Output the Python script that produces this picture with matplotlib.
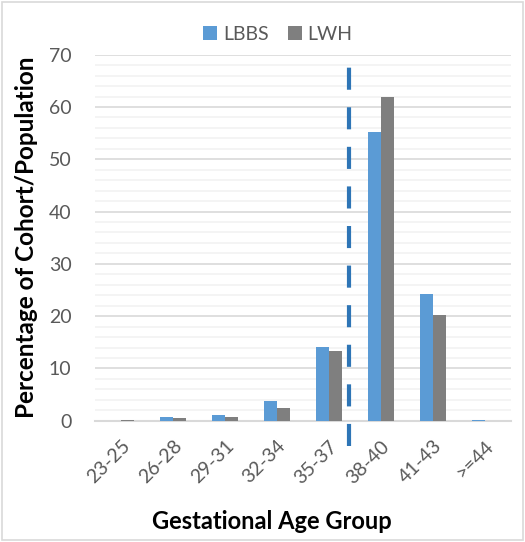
import matplotlib.pyplot as plt
import numpy as np

plt.rcParams['font.family'] = ['Lato', 'DejaVu Sans']

# Data
groups = ['23-25', '26-28', '29-31', '32-34', '35-37', '38-40', '41-43', '>=44']
lbbs = [0.0, 0.7, 1.1, 3.8, 14.1, 55.3, 24.2, 0.2]
lwh = [0.2, 0.5, 0.8, 2.4, 13.4, 62.0, 20.2, 0.0]

c_lbbs = '#5B9BD5'
c_lwh = '#7F7F7F'
grey_txt = '#595959'

fig = plt.figure(figsize=(5.25, 5.42), dpi=100)
ax = fig.add_axes([95 / 525, 121.3 / 542, 415.7 / 525, 366 / 542])

x = np.arange(len(groups))
w = 0.25
ax.bar(x - w / 2, lbbs, w, color=c_lbbs, label='LBBS', zorder=3)
ax.bar(x + w / 2, lwh, w, color=c_lwh, label='LWH', zorder=3)

# dashed reference line between 35-37 and 38-40
ax.axvline(4.38, ymin=-0.07, ymax=0.967, color='#2E75B6', lw=3,
           linestyle=(0, (5.3, 4.2)), clip_on=False, zorder=4)

ax.set_xlim(-0.5, len(groups) - 0.5)
ax.set_ylim(0, 70)
ax.set_yticks(np.arange(0, 71, 10))
ax.set_yticks(np.arange(0, 70, 2), minor=True)
ax.grid(axis='y', which='major', color='#D9D9D9', lw=1.2, zorder=0)
ax.grid(axis='y', which='minor', color='#F2F2F2', lw=1.2, zorder=0)

ax.set_xticks(x)
ax.set_xticklabels(groups, rotation=45, ha='right', rotation_mode='anchor')
ax.tick_params(axis='both', which='both', length=0, labelsize=14, colors=grey_txt)
ax.tick_params(axis='y', pad=17)
ax.tick_params(axis='x', pad=12)

for s in ['top', 'right', 'left']:
    ax.spines[s].set_visible(False)
ax.spines['bottom'].set_color('#D9D9D9')
ax.spines['bottom'].set_linewidth(1.5)

ax.set_ylabel('Percentage of Cohort/Population', fontsize=17.5, fontweight='bold',
              color='black', labelpad=8)
ax.set_xlabel('Gestational Age Group', fontsize=17, fontweight='bold', color='black')
ax.xaxis.set_label_coords(0.426, -0.243)

ax.legend(loc='lower center', bbox_to_anchor=(0.44, 0.985), ncol=2, frameon=False,
          fontsize=14, handlelength=0.7, handleheight=0.7, handletextpad=0.3,
          columnspacing=1.0, labelcolor=grey_txt)

# light border around the whole chart
fig.patches.append(plt.Rectangle((0.004, 0.004), 0.992, 0.992, transform=fig.transFigure,
                                 fill=False, edgecolor='#D9D9D9', lw=1.2))

fig.savefig('out.png', dpi=100)
